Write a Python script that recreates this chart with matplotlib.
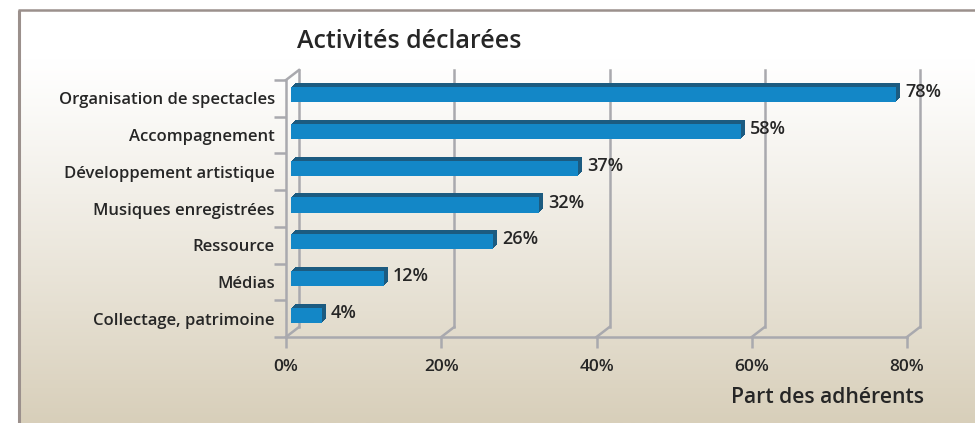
import numpy as np
import matplotlib
matplotlib.use("Agg")
import matplotlib.pyplot as plt
from matplotlib.transforms import ScaledTranslation

categories = ["Organisation de spectacles", "Accompagnement", "Développement artistique",
              "Musiques enregistrées", "Ressource", "Médias", "Collectage, patrimoine"]
values = [78, 58, 37, 32, 26, 12, 4]
xticks = [0, 20, 40, 60, 80]
xticklabels = ["0%", "20%", "40%", "60%", "80%"]
title = "Activités déclarées"
xlabel = "Part des adhérents"

plt.rcParams['font.family'] = ['Open Sans', 'DejaVu Sans']

W, H = 975, 423
fig = plt.figure(figsize=(W / 100, H / 100), dpi=100)

# background gradient inside the frame
bg = fig.add_axes([0, 0, 1, 1], zorder=-10)
bg.set_xlim(0, W); bg.set_ylim(H, 0); bg.axis("off")
top_c = np.array([1.0, 1.0, 1.0])
bot_c = np.array([0xd8, 0xcf, 0xba]) / 255
t = np.linspace(0, 1, 200)[:, None]
t = np.clip((t - 0.12) / 0.88, 0, 1) ** 1.1
grad = top_c * (1 - t) + bot_c * t
bg.imshow(grad[:, None, :], extent=[19, W, H, 10], aspect="auto", zorder=0)
frame_c = "#9b908c"
bg.plot([19, 19], [H, 10], color=frame_c, lw=2.2, solid_capstyle="butt")
bg.plot([18, W], [10.5, 10.5], color=frame_c, lw=1.8, solid_capstyle="butt")

# main axes: front axis geometry
x0, x1, ytop, ybot = 286, 907, 80, 337
ax = fig.add_axes([x0 / W, 1 - ybot / H, (x1 - x0) / W, (ybot - ytop) / H])
ax.set_facecolor("none")
n = len(categories)
ax.set_xlim(0, 80)
ax.set_ylim(n - 0.5, -0.5)

grid_c = "#a9a9ae"
glw = 1.8
for s in ["top", "right"]:
    ax.spines[s].set_visible(False)
for s in ["left", "bottom"]:
    ax.spines[s].set_color(grid_c)
    ax.spines[s].set_linewidth(glw)

txt_c = "#262626"
ax.set_xticks(xticks)
ax.set_xticklabels(xticklabels, fontsize=12.5, color=txt_c, fontweight="semibold")
ax.tick_params(axis="x", direction="out", length=8, width=glw, color=grid_c, pad=8)
ax.set_yticks(range(n))
ax.set_yticklabels(categories, fontsize=12, color=txt_c, fontweight="semibold")
ax.set_yticks(np.arange(-0.5, n, 1), minor=True)
ax.tick_params(axis="y", which="major", length=0, pad=8)
ax.tick_params(axis="y", which="minor", direction="out", length=9, width=glw, color=grid_c)

# depth of the pseudo-3D wall in data units
px_x = 80 / (x1 - x0)
px_y = n / (ybot - ytop)
dx, dy = 13 * px_x, 10 * px_y
yb, yt = n - 0.5, -0.5
for xv in xticks:
    ax.plot([xv + dx, xv + dx], [yb - dy, yt - dy], color=grid_c, lw=glw, zorder=1, clip_on=False)
    ax.plot([xv, xv + dx], [yb, yb - dy], color=grid_c, lw=glw, zorder=1, clip_on=False)
ax.plot([0, dx], [yt, yt - dy], color=grid_c, lw=glw, zorder=1, clip_on=False)

# bars with extrusion
front_c = "#1387c7"
dark_c = "#1c5b80"
bar_h = 0.41
ypos = np.arange(n)
base = ScaledTranslation(5 / 100, 3.5 / 100, fig.dpi_scale_trans)
for k in [4, 3, 2, 1]:
    off = ScaledTranslation((5 + k) / 100, (3.5 + k) / 100, fig.dpi_scale_trans)
    ax.barh(ypos, values, height=bar_h, color=dark_c, transform=ax.transData + off,
            zorder=3, clip_on=False)
ax.barh(ypos, values, height=bar_h, color=front_c, transform=ax.transData + base,
        zorder=4, clip_on=False)

for yv, v in zip(ypos, values):
    ax.annotate(f"{v}%", (v, yv), xytext=(14, 6), textcoords="offset pixels",
                ha="left", va="center", fontsize=13, color=txt_c, zorder=6,
                fontweight="semibold")

fig.text(297 / W, 1 - 42 / H, title, ha="left", va="center", fontsize=18,
         color=txt_c, fontweight="semibold")
fig.text(924 / W, 1 - 397 / H, xlabel, ha="right", va="center", fontsize=15.2,
         color=txt_c, fontweight="semibold")

fig.savefig("out.png", dpi=100)
